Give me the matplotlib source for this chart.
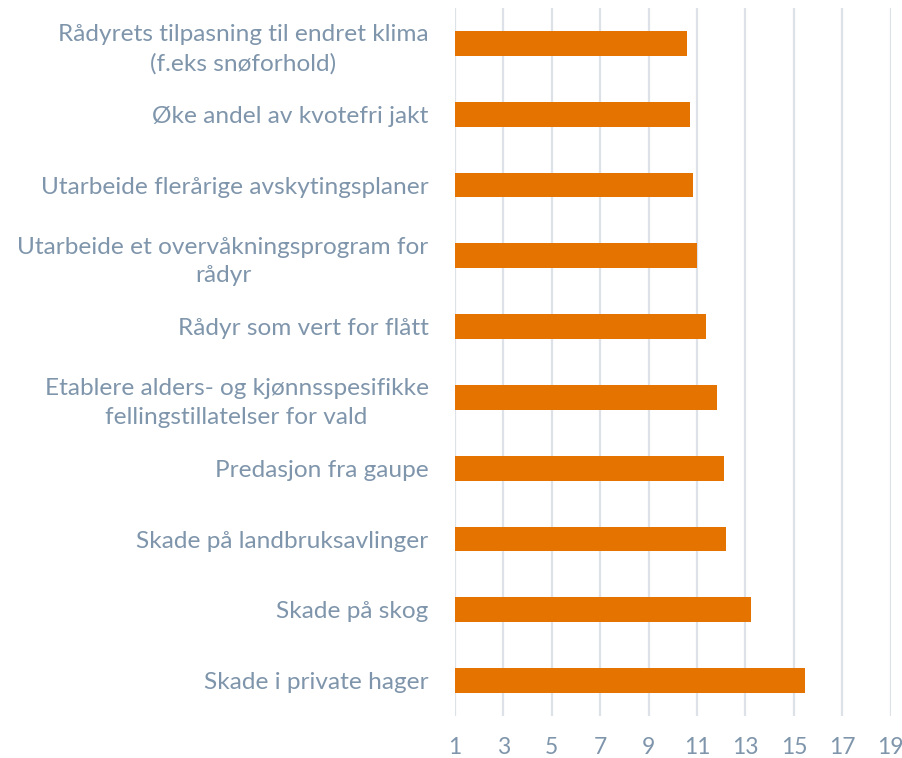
import matplotlib.pyplot as plt

# tiltak / tema, fra topp til bunn
labels = [
    'Rådyrets tilpasning til endret klima\n(f.eks snøforhold)',
    'Øke andel av kvotefri jakt',
    'Utarbeide flerårige avskytingsplaner',
    'Utarbeide et overvåkningsprogram for\nrådyr',
    'Rådyr som vert for flått',
    'Etablere alders- og kjønnsspesifikke\nfellingstillatelser for vald',
    'Predasjon fra gaupe',
    'Skade på landbruksavlinger',
    'Skade på skog',
    'Skade i private hager',
]
values = [10.6, 10.71, 10.85, 11.0, 11.37, 11.81, 12.12, 12.2, 13.22, 15.45]
xticks = [1, 3, 5, 7, 9, 11, 13, 15, 17, 19]

text_col = '#7f95ab'
bar_col = '#e57300'
grid_col = '#dde2e8'

plt.rcParams['font.family'] = ['Lato', 'DejaVu Sans']

fig = plt.figure(figsize=(9.03, 7.58), dpi=100)
ax = fig.add_axes([0.5039, 0.0554, 0.4825, 0.934])

pos = list(range(len(labels)))
base = xticks[0]
ax.barh(pos, [v - base for v in values], left=base, height=0.35,
        color=bar_col, zorder=3)

ax.set_xlim(xticks[0], xticks[-1])
ax.set_ylim(len(labels) - 0.5, -0.5)
ax.set_xticks(xticks)
ax.set_yticks(pos)
ax.set_yticklabels(labels, linespacing=1.45, multialignment='center')
ax.grid(axis='x', color=grid_col, linewidth=1.6, zorder=0)
for s in ax.spines.values():
    s.set_visible(False)
ax.tick_params(axis='x', length=0, pad=15, labelsize=16.5, labelcolor=text_col)
ax.tick_params(axis='y', length=0, pad=19, labelsize=17.6, labelcolor=text_col)

fig.savefig('out.png', dpi=100)
